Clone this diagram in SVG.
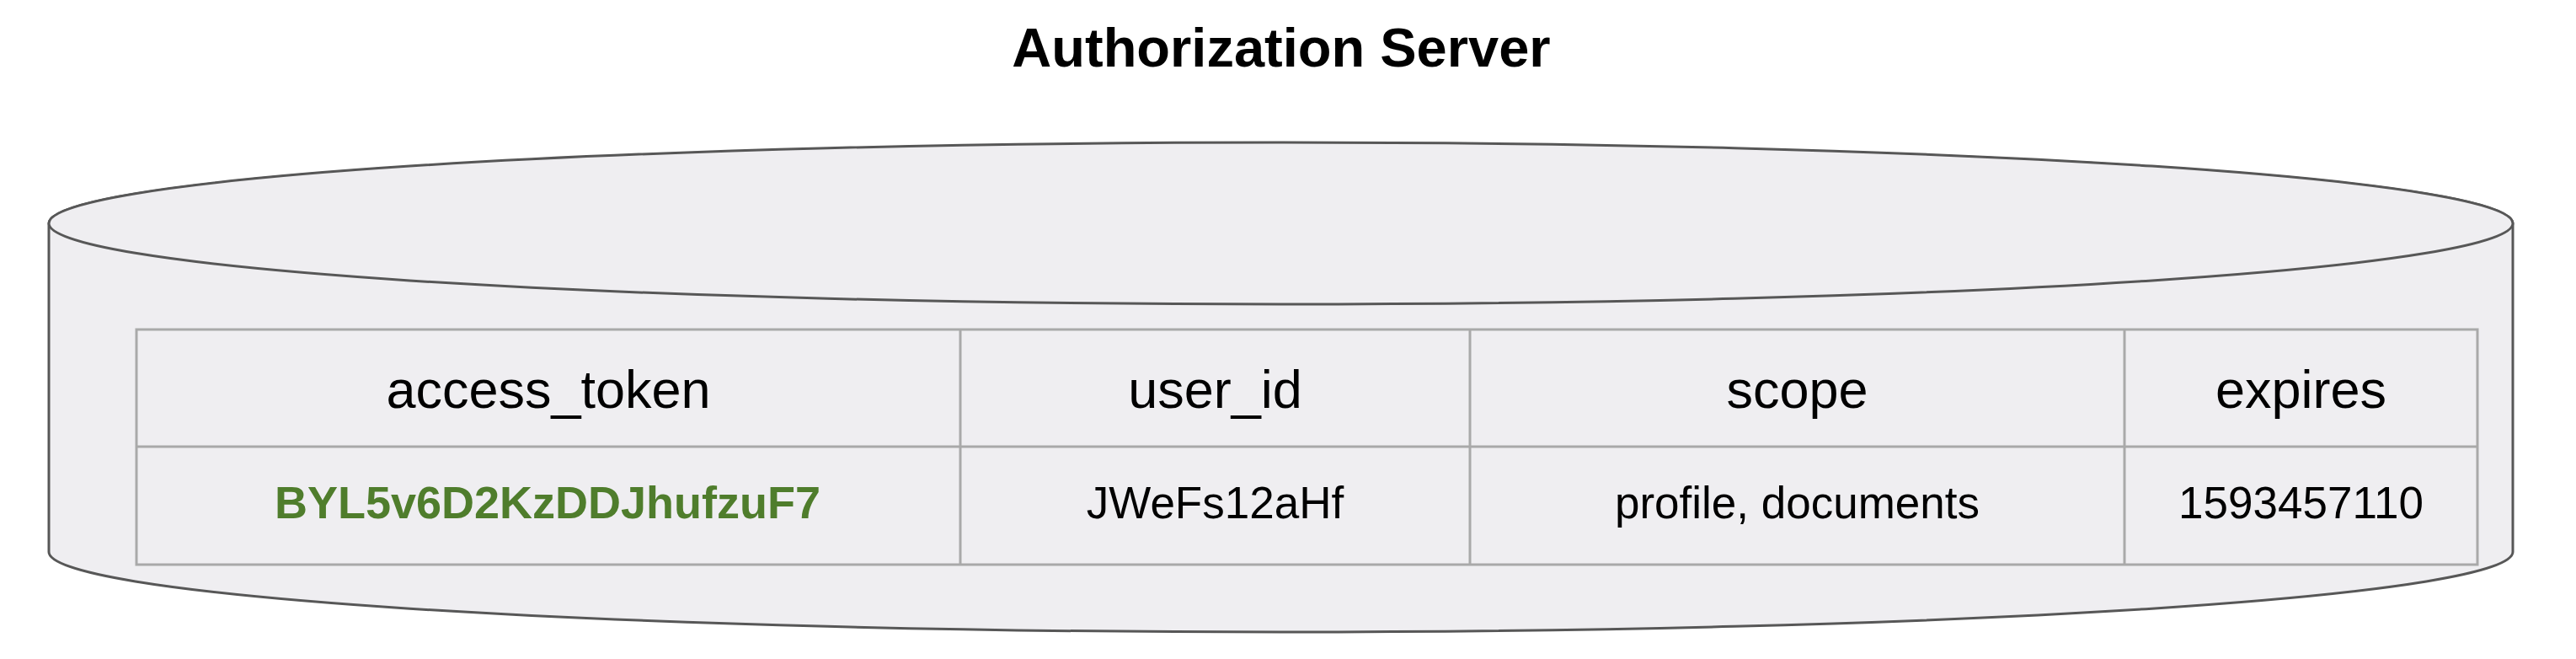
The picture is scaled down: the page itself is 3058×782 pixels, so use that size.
<svg xmlns="http://www.w3.org/2000/svg" width="3058" height="782" viewBox="0 0 3058 782">
  <style>
    .cyl { fill: #efeef1; stroke: #575757; stroke-width: 3; }
    .grid { fill: none; stroke: #a9a9a9; stroke-width: 3; }
    .title { font-family: "Liberation Sans", Arial, sans-serif; font-weight: bold; font-size: 65px; fill: #000; text-anchor: middle; }
    .hdr { font-family: "Liberation Sans", Arial, sans-serif; font-size: 63px; fill: #000; text-anchor: middle; }
    .val { font-family: "Liberation Sans", Arial, sans-serif; font-size: 53px; fill: #000; text-anchor: middle; }
    .tok { font-family: "Liberation Sans", Arial, sans-serif; font-size: 54px; font-weight: bold; fill: #4f7d2c; text-anchor: middle; }
  </style>
  <rect x="0" y="0" width="3058" height="782" fill="#ffffff"/>
  <g id="title">
    <text class="title" x="1521" y="79">Authorization Server</text>
  </g>
  <g id="authorization-server">
    <path class="cyl" d="M58,265 L58,655 A1462.5,95 0 0 0 2983,655 L2983,265 A1462.5,95 0 0 0 58,265 Z"/>
    <ellipse class="cyl" cx="1520.5" cy="265" rx="1462.5" ry="96"/>
  </g>
  <g id="token-table">
    <rect class="grid" x="162" y="391" width="2779" height="279"/>
    <line class="grid" x1="162" y1="530" x2="2941" y2="530"/>
    <line class="grid" x1="1140" y1="391" x2="1140" y2="670"/>
    <line class="grid" x1="1745" y1="391" x2="1745" y2="670"/>
    <line class="grid" x1="2522" y1="391" x2="2522" y2="670"/>
    <text class="hdr" x="651" y="484">access_token</text>
    <text class="hdr" x="1442.5" y="484">user_id</text>
    <text class="hdr" x="2133.5" y="484">scope</text>
    <text class="hdr" x="2731.5" y="484">expires</text>
    <text class="tok" x="650" y="615">BYL5v6D2KzDDJhufzuF7</text>
    <text class="val" x="1442.5" y="615">JWeFs12aHf</text>
    <text class="val" x="2133.5" y="615">profile, documents</text>
    <text class="val" x="2731.5" y="615">1593457110</text>
  </g>
  <g id="connectors"/>
</svg>
